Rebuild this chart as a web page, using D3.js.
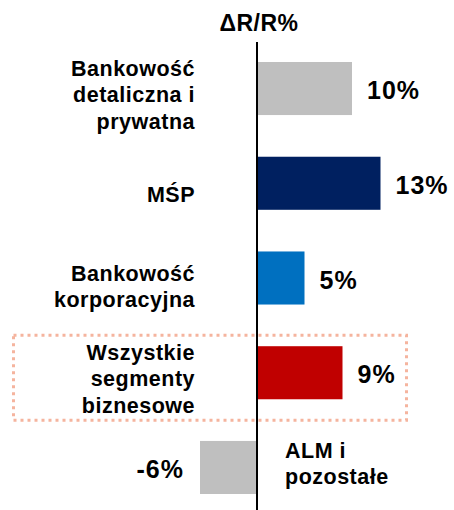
<!DOCTYPE html>
<html>
<head>
<meta charset="utf-8">
<script src="https://cdn.jsdelivr.net/npm/d3@7"></script>
<style>
  html, body { margin: 0; padding: 0; background: #fff; }
  svg { display: block; }
  text { font-family: "Liberation Sans", Arial, sans-serif; font-weight: bold; fill: #000; }
</style>
</head>
<body>
<div id="chart"></div>
<script>
'use strict';

// chart data
const categories = [
  'Bankowość detaliczna i prywatna',
  'MŚP',
  'Bankowość korporacyjna',
  'Wszystkie segmenty biznesowe',
  'ALM i pozostałe'
];
const labelLines = [
  ['Bankowość', 'detaliczna i', 'prywatna'],
  ['MŚP'],
  ['Bankowość', 'korporacyjna'],
  ['Wszystkie', 'segmenty', 'biznesowe'],
  ['ALM i', 'pozostałe']
];
const values = [10, 13, 5, 9, -6];
const barColours = ['#bfbfbf', '#002060', '#0070c0', '#c00000', '#bfbfbf'];
const highlighted = 'Wszystkie segmenty biznesowe';
const title = 'ΔR/R%';

function makeBarChart() {
  const width = 454;
  const height = 510;

  const svg = d3.select('#chart')
                .append('svg')
                .attr('width', width)
                .attr('height', height);

  const x = d3.scaleLinear()
              .domain([-10, 15])
              .range([162, 399.5]);

  const y = d3.scaleBand()
              .domain(categories)
              .range([62, 494])
              .paddingInner(0.44)
              .paddingOuter(0);

  const rows = categories.map(function(c, i) {
    return { cat: c, lines: labelLines[i], value: values[i], colour: barColours[i] };
  });

  // dotted highlight box round the total row
  const hy = y(highlighted);
  svg.append('rect')
     .attr('x', 13.5)
     .attr('y', hy - 11)
     .attr('width', 393)
     .attr('height', 85)
     .attr('fill', 'none')
     .attr('stroke', '#f5b49e')
     .attr('stroke-width', 3)
     .attr('stroke-dasharray', '3 4');

  svg.selectAll('.bar')
     .data(rows)
     .enter()
     .append('rect')
     .attr('class', 'bar')
     .attr('x', function(d) { return x(Math.min(0, d.value)); })
     .attr('y', function(d) { return y(d.cat); })
     .attr('width', function(d) { return Math.abs(x(d.value) - x(0)); })
     .attr('height', y.bandwidth())
     .attr('fill', function(d) { return d.colour; });

  // zero line
  svg.append('line')
     .attr('x1', x(0))
     .attr('x2', x(0))
     .attr('y1', 42)
     .attr('y2', height)
     .attr('stroke', '#000')
     .attr('stroke-width', 2);

  svg.append('text')
     .attr('x', x(0) + 2)
     .attr('y', 31)
     .attr('text-anchor', 'middle')
     .style('font-size', '23px')
     .style('letter-spacing', '0.5px')
     .text(title);

  // value labels
  svg.selectAll('.val')
     .data(rows)
     .enter()
     .append('text')
     .attr('class', 'val')
     .attr('x', function(d) { return d.value >= 0 ? x(d.value) + 15 : x(d.value) - 16; })
     .attr('y', function(d) { return y(d.cat) + y.bandwidth() / 2; })
     .attr('dy', '0.42em')
     .attr('text-anchor', function(d) { return d.value >= 0 ? 'start' : 'end'; })
     .style('font-size', '25px')
     .style('letter-spacing', '1px')
     .text(function(d) { return String(d.value) + '%'; });

  // category labels: left of axis, or right of it for negative bars
  const lh = 26.5;
  const cat = svg.selectAll('.cat')
                 .data(rows)
                 .enter()
                 .append('text')
                 .attr('class', 'cat')
                 .attr('text-anchor', function(d) { return d.value >= 0 ? 'end' : 'start'; })
                 .style('font-size', '21.5px')
                 .style('letter-spacing', '0.5px');

  cat.each(function(d) {
    const n = d.lines.length;
    const cy = y(d.cat) + y.bandwidth() / 2;
    const shift = d.value >= 0 ? 14 - 2.5 * n : -3.5;
    const first = cy - (n - 1) / 2 * lh + 7 + shift;
    const tx = d.value >= 0 ? x(0) - 62 : x(0) + 28;
    d3.select(this).selectAll('tspan')
      .data(d.lines)
      .enter()
      .append('tspan')
      .attr('x', tx)
      .attr('y', function(l, i) { return first + i * lh; })
      .text(function(l) { return l; });
  });
}

makeBarChart();
</script>
</body>
</html>
